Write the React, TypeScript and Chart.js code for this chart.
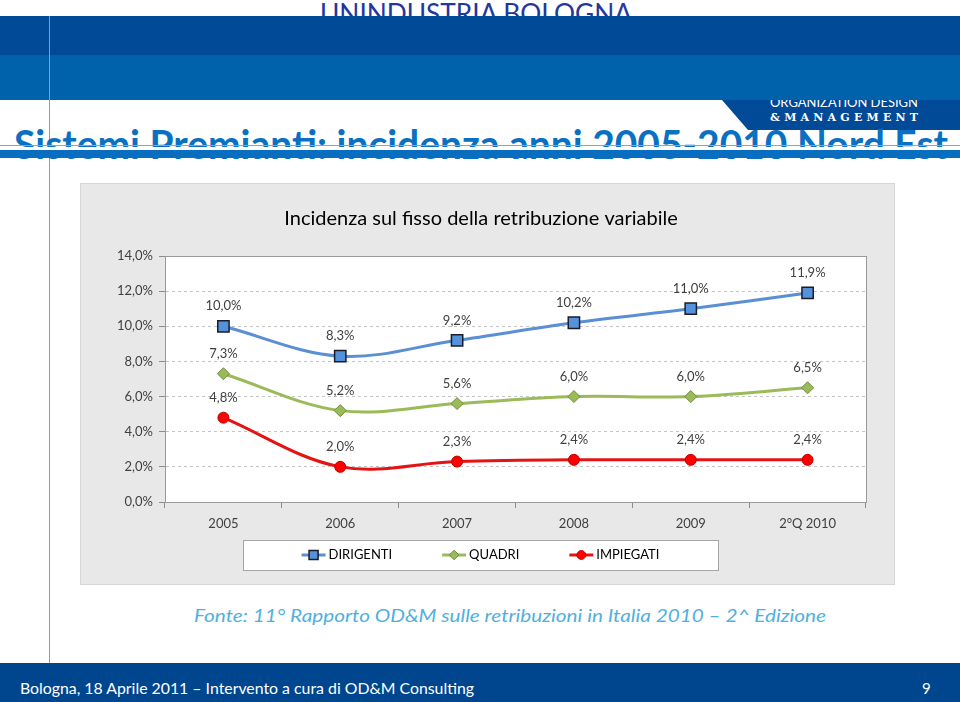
import React, { useEffect, useRef } from "react";
import { Chart, registerables } from "chart.js";
import { drawPoint } from "chart.js/helpers";

Chart.register(...registerables);

// ---- data ----
const categories = ["2005", "2006", "2007", "2008", "2009", "2°Q 2010"];
const dirigenti = [10.0, 8.3, 9.2, 10.2, 11.0, 11.9];
const quadri = [7.3, 5.2, 5.6, 6.0, 6.0, 6.5];
const impiegati = [4.8, 2.0, 2.3, 2.4, 2.4, 2.4];
const seriesNames = ["DIRIGENTI", "QUADRI", "IMPIEGATI"];
const yMin = 0;
const yMax = 14;
const yStep = 2;

const chartTitle = "Incidenza sul fisso della retribuzione variabile";
const slideTitle = "Sistemi Premianti: incidenza anni 2005-2010 Nord Est";
const sourceText = "Fonte: 11° Rapporto OD&M sulle retribuzioni in Italia 2010 – 2^ Edizione";
const footerText = "Bologna, 18 Aprile 2011 – Intervento a cura di OD&M Consulting";
const pageNumber = "9";

const FONT = "Lato, 'Open Sans', sans-serif";
const fmt = (v: number) => v.toFixed(1).replace(".", ",") + "%";

const panelPlugin = {
  id: "panel",
  beforeDraw(chart: any) {
    const { ctx, width, height, chartArea: ca } = chart;
    ctx.save();
    ctx.fillStyle = "#e8e8e8";
    ctx.fillRect(0, 0, width, height);
    ctx.strokeStyle = "#d6d6d6";
    ctx.lineWidth = 1;
    ctx.strokeRect(0.5, 0.5, width - 1, height - 1);
    ctx.fillStyle = "#ffffff";
    ctx.fillRect(ca.left, ca.top, ca.right - ca.left, ca.bottom - ca.top);
    // chart title
    ctx.fillStyle = "#000000";
    ctx.font = `20px ${FONT}`;
    ctx.textAlign = "center";
    ctx.textBaseline = "middle";
    ctx.fillText(chartTitle, 401, 36);
    ctx.restore();
  },
  beforeDatasetsDraw(chart: any) {
    const { ctx, chartArea: ca } = chart;
    ctx.save();
    ctx.strokeStyle = "#9a9a9a";
    ctx.lineWidth = 1;
    ctx.strokeRect(Math.round(ca.left) + 0.5, Math.round(ca.top) + 0.5, Math.round(ca.right - ca.left), Math.round(ca.bottom - ca.top));
    ctx.restore();
  },
  afterDatasetsDraw(chart: any) {
    const { ctx } = chart;
    ctx.save();
    ctx.font = `13px ${FONT}`;
    ctx.fillStyle = "#404040";
    ctx.textAlign = "center";
    ctx.textBaseline = "middle";
    chart.data.datasets.forEach((ds: any, i: number) => {
      const meta = chart.getDatasetMeta(i);
      meta.data.forEach((pt: any, j: number) => {
        ctx.fillText(fmt(ds.data[j]), pt.x, pt.y - 20);
      });
    });
    ctx.restore();
  },
  afterDraw(chart: any) {
    const { ctx, chartArea: ca } = chart;
    const box = { x: 163, y: ca.bottom + 38, w: 475, h: 30 };
    ctx.save();
    ctx.fillStyle = "#ffffff";
    ctx.fillRect(box.x, box.y, box.w, box.h);
    ctx.strokeStyle = "#a6a6a6";
    ctx.lineWidth = 1;
    ctx.strokeRect(box.x + 0.5, box.y + 0.5, box.w, box.h);
    ctx.font = `13px ${FONT}`;
    const markW = 24;
    const gap = 50;
    const items = chart.data.datasets.map((ds: any) => ({
      ds,
      w: markW + 3 + ctx.measureText(ds.label).width,
    }));
    const total = items.reduce((a: number, it: any) => a + it.w, 0) + gap * (items.length - 1);
    let x = box.x + (box.w - total) / 2;
    const cy = box.y + box.h / 2;
    items.forEach((it: any) => {
      const ds = it.ds;
      ctx.strokeStyle = ds.borderColor;
      ctx.lineWidth = 3;
      ctx.beginPath();
      ctx.moveTo(x, cy);
      ctx.lineTo(x + markW, cy);
      ctx.stroke();
      ctx.fillStyle = ds.pointBackgroundColor;
      ctx.strokeStyle = ds.pointBorderColor;
      ctx.lineWidth = ds.pointBorderWidth;
      drawPoint(ctx, { pointStyle: ds.pointStyle, radius: ds.pointRadius * 0.8, rotation: 0, borderWidth: ds.pointBorderWidth }, x + markW / 2, cy);
      ctx.fillStyle = "#000000";
      ctx.textAlign = "left";
      ctx.textBaseline = "middle";
      ctx.fillText(ds.label, x + markW + 3, cy);
      x += it.w + gap;
    });
    ctx.restore();
  },
};

function ChartPanel() {
  const ref = useRef<HTMLCanvasElement | null>(null);
  useEffect(() => {
    if (!ref.current) return;
    const chart = new Chart(ref.current, {
      type: "line",
      data: {
        labels: categories,
        datasets: [
          {
            label: seriesNames[0],
            data: dirigenti,
            borderColor: "#5a8fd4",
            borderWidth: 3,
            tension: 0.35,
            pointStyle: "rect",
            pointRadius: 8,
            pointBackgroundColor: "#5592dc",
            pointBorderColor: "#1c1c28",
            pointBorderWidth: 1.5,
          },
          {
            label: seriesNames[1],
            data: quadri,
            borderColor: "#9bbb59",
            borderWidth: 3,
            tension: 0.35,
            pointStyle: "rectRot",
            pointRadius: 6,
            pointBackgroundColor: "#9bbb59",
            pointBorderColor: "#6f8c3c",
            pointBorderWidth: 1,
          },
          {
            label: seriesNames[2],
            data: impiegati,
            borderColor: "#e41414",
            borderWidth: 3,
            tension: 0.35,
            pointStyle: "circle",
            pointRadius: 5.5,
            pointBackgroundColor: "#ff0000",
            pointBorderColor: "#c00000",
            pointBorderWidth: 1,
          },
        ] as any,
      },
      options: {
        responsive: false,
        animation: false,
        devicePixelRatio: 1,
        layout: { padding: { left: 0, right: 29, top: 73, bottom: 43 } },
        plugins: { legend: { display: false }, title: { display: false }, tooltip: { enabled: false } },
        scales: {
          x: {
            offset: true,
            grid: { offset: true, drawOnChartArea: false, drawTicks: true, tickLength: 6, color: "#8c8c8c" },
            border: { display: true, color: "#8c8c8c" },
            ticks: { color: "#404040", font: { family: FONT, size: 13 }, padding: 8, maxRotation: 0 },
            afterFit: (s: any) => { s.height = 40; },
          },
          y: {
            min: yMin,
            max: yMax,
            ticks: { stepSize: yStep, color: "#404040", font: { family: FONT, size: 13 }, padding: 6, callback: (v: any) => fmt(Number(v)) },
            grid: { color: "#c4c4c4", tickBorderDash: [0, 0], tickColor: "#8c8c8c", tickLength: 6, drawTicks: true },
            border: { display: true, color: "#8c8c8c", dash: [3, 3] },
            afterFit: (s: any) => { s.width = 85; },
          },
        },
      } as any,
      plugins: [panelPlugin],
    });
    return () => chart.destroy();
  }, []);
  return <canvas ref={ref} width={815} height={402} style={{ display: "block" }} />;
}

export default function App() {
  return (
    <div style={{ position: "absolute", left: 0, top: 0, width: 960, height: 702, overflow: "hidden", background: "#fff" }}>
      <svg width={960} height={702} style={{ position: "absolute", left: 0, top: 0 }}>
        <rect x={0} y={0} width={960} height={702} fill="#ffffff" />
        <text x={320} y={23} fontFamily={FONT} fontWeight={400} fontSize={26} fill="#2336a0" textLength={312} lengthAdjust="spacingAndGlyphs">UNINDUSTRIA BOLOGNA</text>
        <polygon points="722,100 960,100 960,130 748,130" fill="#004a97" />
        <text x={770} y={107} fontFamily={FONT} fontSize={13} fill="#ffffff" textLength={148} lengthAdjust="spacingAndGlyphs">ORGANIZATION DESIGN</text>
        <text x={770} y={121} fontFamily="'DejaVu Serif', serif" fontWeight={700} fontSize={11} fill="#ffffff" textLength={148} lengthAdjust="spacing">&amp;MANAGEMENT</text>
        <rect x={0} y={16} width={960} height={39} fill="#004a97" />
        <rect x={0} y={55} width={960} height={45} fill="#0062ab" />
        <line x1={49.5} y1={16} x2={49.5} y2={663} stroke="#9a9a9a" strokeWidth={1} />
        <text x={14} y={159} fontFamily={FONT} fontWeight={700} fontSize={40} fill="#0a70c2" textLength={934} lengthAdjust="spacingAndGlyphs">{slideTitle}</text>
        <line x1={0} y1={145.5} x2={960} y2={145.5} stroke="#a0a0a0" strokeWidth={1} />
        <rect x={0} y={147} width={960} height={3} fill="#ffffff" />
        <rect x={0} y={150} width={960} height={8} fill="#0a6ec0" />
        <text x={194} y={622} fontFamily={FONT} fontStyle="italic" fontSize={17} fill="#4fb0de" textLength={632} lengthAdjust="spacingAndGlyphs">{sourceText}</text>
        <rect x={0} y={663} width={960} height={39} fill="#00468f" />
        <text x={20} y={694} fontFamily={FONT} fontSize={15} fill="#ffffff" textLength={454} lengthAdjust="spacingAndGlyphs">{footerText}</text>
        <text x={922} y={694} fontFamily={FONT} fontSize={15} fill="#ffffff">{pageNumber}</text>
      </svg>
      <div style={{ position: "absolute", left: 80, top: 183, width: 815, height: 402 }}>
        <ChartPanel />
      </div>
    </div>
  );
}
